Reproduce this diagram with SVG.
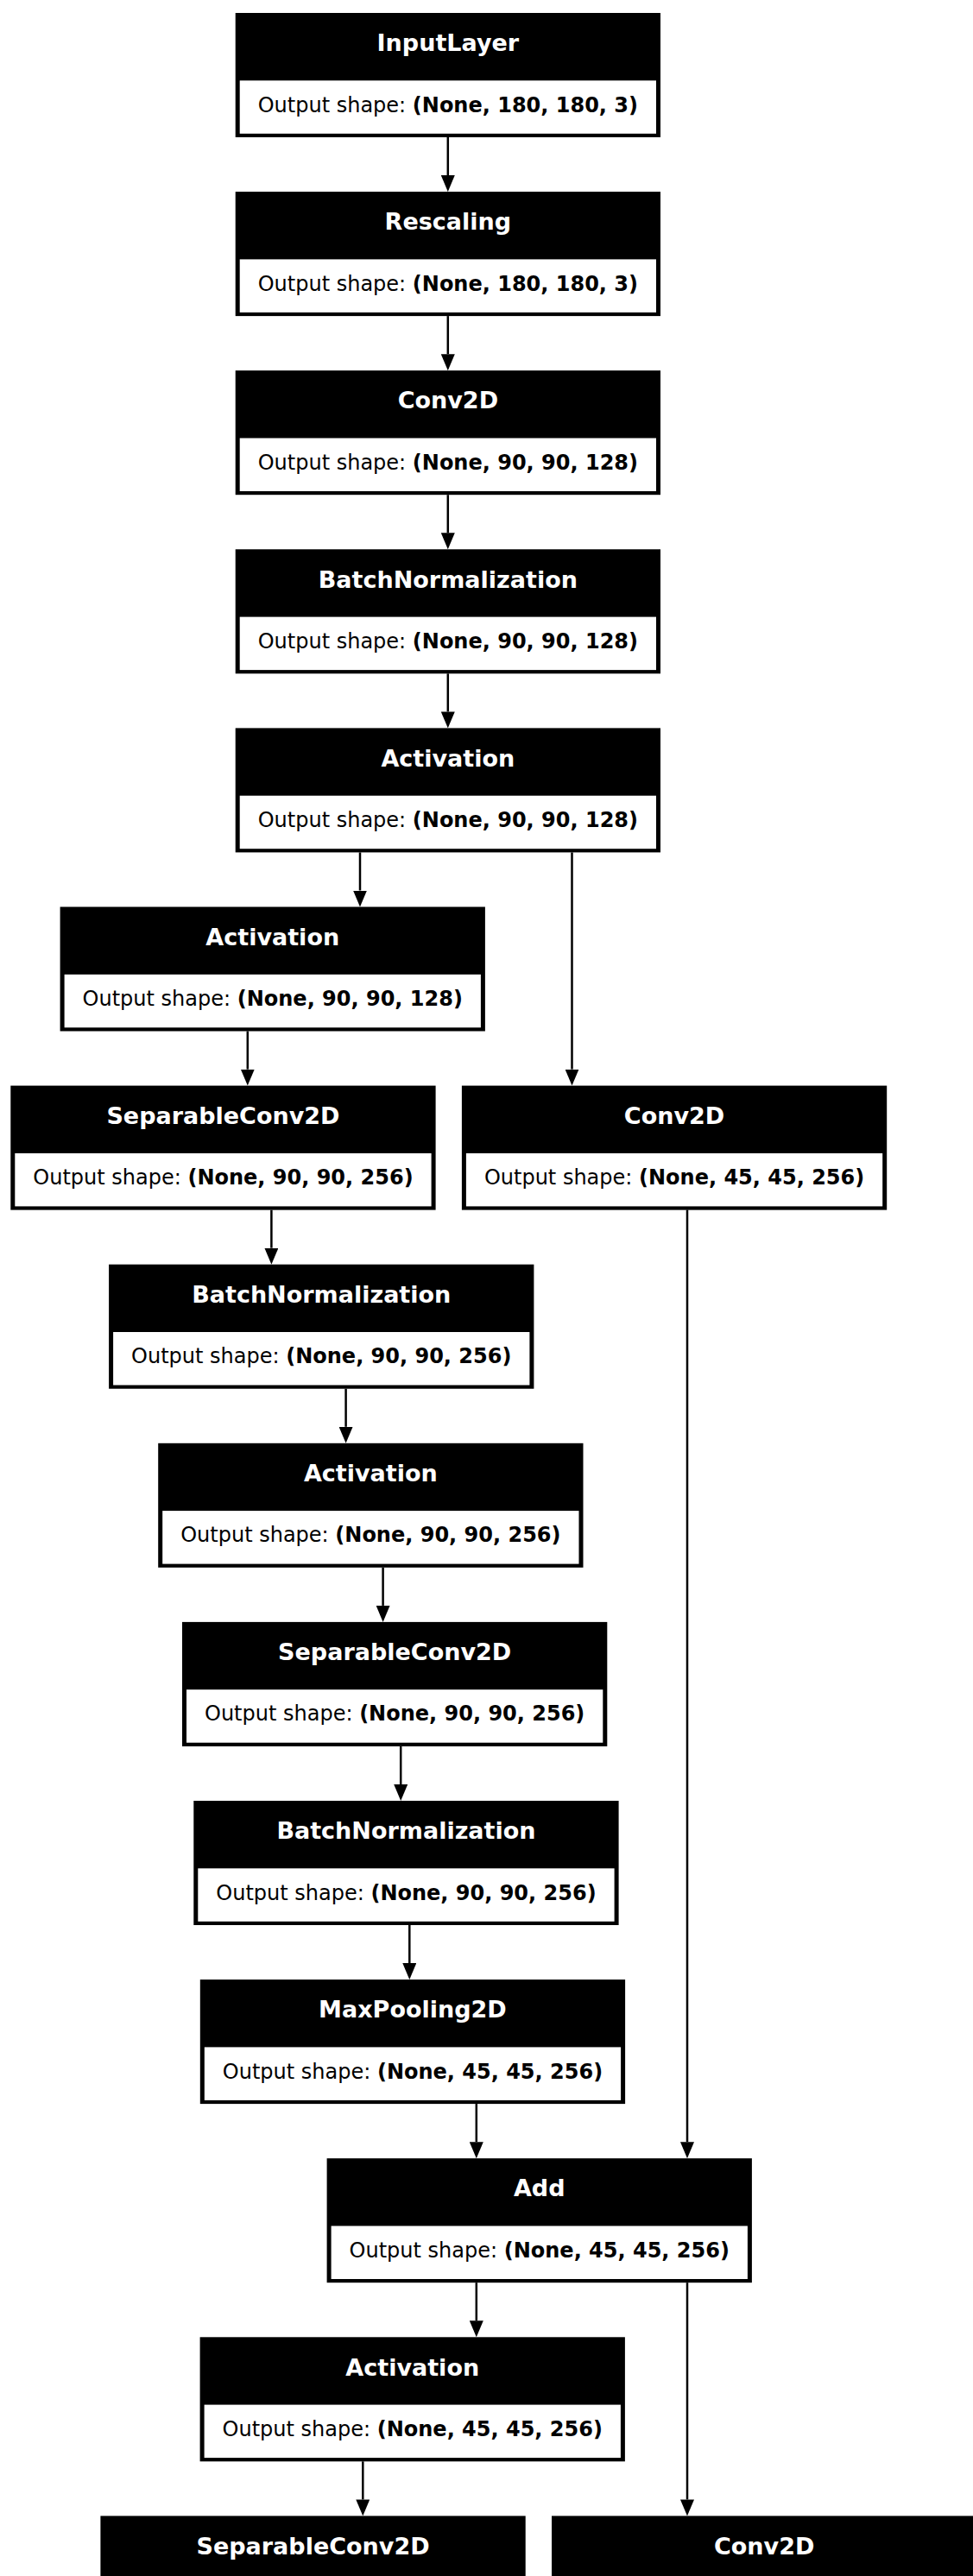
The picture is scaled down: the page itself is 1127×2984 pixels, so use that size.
<svg xmlns="http://www.w3.org/2000/svg" width="1127" height="2984" viewBox="0 0 1127 2984">
<style>
.frame{fill:#000}
.body{fill:#fff}
.title{font-family:"DejaVu Sans",sans-serif;font-weight:bold;font-size:27px;fill:#fff;text-anchor:middle}
.shape{font-family:"DejaVu Sans",sans-serif;font-size:24px;fill:#000;text-anchor:middle}
.shape tspan.b{font-weight:bold}
.edge{stroke:#000;stroke-width:2.5;fill:none;marker-end:url(#arrow)}
</style>
<defs>
<marker id="arrow" viewBox="0 0 19 16" refX="0" refY="8" markerWidth="19" markerHeight="16" markerUnits="userSpaceOnUse" orient="auto">
<path d="M0,0 L19,8 L0,16 Z" fill="#000"/>
</marker>
</defs>
<rect x="0" y="0" width="1127" height="2984" fill="#fff"/>
<g id="connectors">
<line class="edge" x1="518.8" y1="159" x2="518.8" y2="203.1"/>
<line class="edge" x1="518.8" y1="366.1" x2="518.8" y2="410.2"/>
<line class="edge" x1="518.8" y1="573.2" x2="518.8" y2="617.3"/>
<line class="edge" x1="518.8" y1="780.3" x2="518.8" y2="824.4"/>
<line class="edge" x1="417" y1="987.4" x2="417" y2="1031.5"/>
<line class="edge" x1="662.5" y1="987.4" x2="662.5" y2="1238.6"/>
<line class="edge" x1="286.8" y1="1194.5" x2="286.8" y2="1238.6"/>
<line class="edge" x1="314.4" y1="1401.6" x2="314.4" y2="1445.7"/>
<line class="edge" x1="796" y1="1401.6" x2="796" y2="2481.2"/>
<line class="edge" x1="400.6" y1="1608.7" x2="400.6" y2="1652.8"/>
<line class="edge" x1="443.6" y1="1815.8" x2="443.6" y2="1859.9"/>
<line class="edge" x1="464.2" y1="2022.9" x2="464.2" y2="2067"/>
<line class="edge" x1="474.3" y1="2230" x2="474.3" y2="2274.1"/>
<line class="edge" x1="551.8" y1="2437.1" x2="551.8" y2="2481.2"/>
<line class="edge" x1="551.8" y1="2644.2" x2="551.8" y2="2688.3"/>
<line class="edge" x1="796" y1="2644.2" x2="796" y2="2895.4"/>
<line class="edge" x1="420.3" y1="2851.3" x2="420.3" y2="2895.4"/>
</g>
<defs>
<g id="box"><rect class="frame" x="0" y="0" width="492.3" height="144"/><rect class="body" x="5" y="78.3" width="482.3" height="61.5"/></g>
</defs>
<g id="input_layer" transform="translate(272.7,15)"><use href="#box"/><text class="title" x="246.15" y="44.3">InputLayer</text><text class="shape" x="246.15" y="114.6">Output shape: <tspan class="b">(None, 180, 180, 3)</tspan></text></g>
<g id="rescaling" transform="translate(272.7,222.1)"><use href="#box"/><text class="title" x="246.15" y="44.3">Rescaling</text><text class="shape" x="246.15" y="114.6">Output shape: <tspan class="b">(None, 180, 180, 3)</tspan></text></g>
<g id="conv2d" transform="translate(272.7,429.2)"><use href="#box"/><text class="title" x="246.15" y="44.3">Conv2D</text><text class="shape" x="246.15" y="114.6">Output shape: <tspan class="b">(None, 90, 90, 128)</tspan></text></g>
<g id="batch_normalization" transform="translate(272.7,636.3)"><use href="#box"/><text class="title" x="246.15" y="44.3">BatchNormalization</text><text class="shape" x="246.15" y="114.6">Output shape: <tspan class="b">(None, 90, 90, 128)</tspan></text></g>
<g id="activation" transform="translate(272.7,843.4)"><use href="#box"/><text class="title" x="246.15" y="44.3">Activation</text><text class="shape" x="246.15" y="114.6">Output shape: <tspan class="b">(None, 90, 90, 128)</tspan></text></g>
<g id="activation_1" transform="translate(69.6,1050.5)"><use href="#box"/><text class="title" x="246.15" y="44.3">Activation</text><text class="shape" x="246.15" y="114.6">Output shape: <tspan class="b">(None, 90, 90, 128)</tspan></text></g>
<g id="separable_conv2d" transform="translate(12.3,1257.6)"><use href="#box"/><text class="title" x="246.15" y="44.3">SeparableConv2D</text><text class="shape" x="246.15" y="114.6">Output shape: <tspan class="b">(None, 90, 90, 256)</tspan></text></g>
<g id="conv2d_1" transform="translate(534.9,1257.6)"><use href="#box"/><text class="title" x="246.15" y="44.3">Conv2D</text><text class="shape" x="246.15" y="114.6">Output shape: <tspan class="b">(None, 45, 45, 256)</tspan></text></g>
<g id="batch_normalization_1" transform="translate(126.1,1464.7)"><use href="#box"/><text class="title" x="246.15" y="44.3">BatchNormalization</text><text class="shape" x="246.15" y="114.6">Output shape: <tspan class="b">(None, 90, 90, 256)</tspan></text></g>
<g id="activation_2" transform="translate(183.2,1671.8)"><use href="#box"/><text class="title" x="246.15" y="44.3">Activation</text><text class="shape" x="246.15" y="114.6">Output shape: <tspan class="b">(None, 90, 90, 256)</tspan></text></g>
<g id="separable_conv2d_1" transform="translate(211,1878.9)"><use href="#box"/><text class="title" x="246.15" y="44.3">SeparableConv2D</text><text class="shape" x="246.15" y="114.6">Output shape: <tspan class="b">(None, 90, 90, 256)</tspan></text></g>
<g id="batch_normalization_2" transform="translate(224.3,2086)"><use href="#box"/><text class="title" x="246.15" y="44.3">BatchNormalization</text><text class="shape" x="246.15" y="114.6">Output shape: <tspan class="b">(None, 90, 90, 256)</tspan></text></g>
<g id="max_pooling2d" transform="translate(231.8,2293.1)"><use href="#box"/><text class="title" x="246.15" y="44.3">MaxPooling2D</text><text class="shape" x="246.15" y="114.6">Output shape: <tspan class="b">(None, 45, 45, 256)</tspan></text></g>
<g id="add" transform="translate(378.6,2500.2)"><use href="#box"/><text class="title" x="246.15" y="44.3">Add</text><text class="shape" x="246.15" y="114.6">Output shape: <tspan class="b">(None, 45, 45, 256)</tspan></text></g>
<g id="activation_3" transform="translate(231.6,2707.3)"><use href="#box"/><text class="title" x="246.15" y="44.3">Activation</text><text class="shape" x="246.15" y="114.6">Output shape: <tspan class="b">(None, 45, 45, 256)</tspan></text></g>
<g id="separable_conv2d_2" transform="translate(116.4,2914.4)"><use href="#box"/><text class="title" x="246.15" y="44.3">SeparableConv2D</text></g>
<g id="conv2d_2" transform="translate(639,2914.4)"><use href="#box"/><text class="title" x="246.15" y="44.3">Conv2D</text></g>
</svg>
